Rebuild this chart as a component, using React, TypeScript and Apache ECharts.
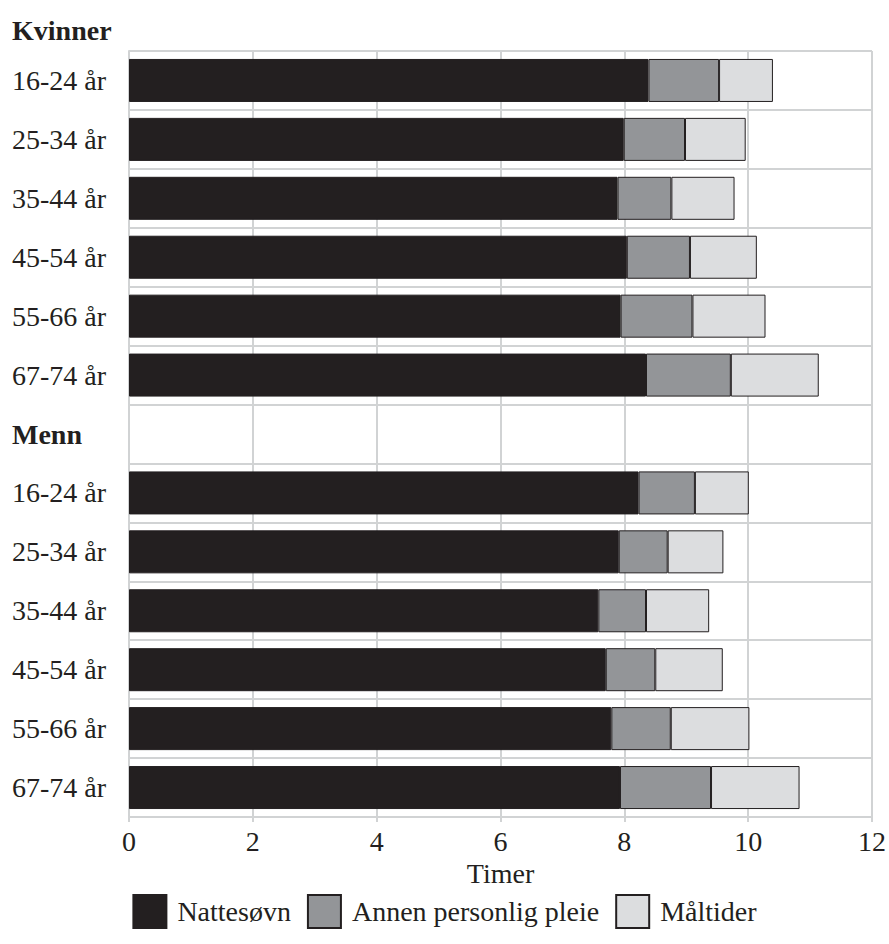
import React, { useEffect, useRef } from "react";
import * as echarts from "echarts";

const categories = [
  "16-24 år", "25-34 år", "35-44 år", "45-54 år", "55-66 år", "67-74 år",
  "Menn",
  "16-24 år ", "25-34 år ", "35-44 år ", "45-54 år ", "55-66 år ", "67-74 år ",
];
const seriesNames = ["Nattesøvn", "Annen personlig pleie", "Måltider"];
const nattesovn = [8.39, 7.99, 7.89, 8.04, 7.94, 8.35, null, 8.23, 7.91, 7.58, 7.70, 7.79, 7.93];
const annenPleie = [1.14, 0.99, 0.87, 1.02, 1.16, 1.37, null, 0.91, 0.79, 0.77, 0.80, 0.96, 1.47];
const maltider = [0.87, 0.98, 1.02, 1.08, 1.18, 1.42, null, 0.87, 0.90, 1.02, 1.09, 1.27, 1.43];
const colors = ["#231f20", "#939598", "#dcdddf"];
const xTicks = [0, 2, 4, 6, 8, 10, 12];

export default function App() {
  const ref = useRef<HTMLDivElement>(null);
  useEffect(() => {
    if (!ref.current) return;
    const chart = echarts.init(ref.current, null, { renderer: "svg" });
    const font = "'Liberation Serif', 'Times New Roman', serif";
    const gridColor = "#d1d3d4";
    const data = [nattesovn, annenPleie, maltider];
    chart.setOption({
      animation: false,
      textStyle: { fontFamily: font },
      graphic: [
        {
          type: "text",
          x: 12,
          y: 30,
          style: {
            text: "Kvinner",
            font: `bold 28px ${font}`,
            fill: "#231f20",
            textVerticalAlign: "middle",
          },
        },
      ],
      legend: {
        bottom: 10,
        left: "center",
        itemWidth: 33,
        itemHeight: 33,
        itemGap: 16,
        icon: "rect",
        textStyle: { fontSize: 28, color: "#231f20", fontFamily: font, padding: [0, 0, 0, 6] },
        data: seriesNames,
      },
      grid: { left: 129, right: 16, top: 51, bottom: 127 },
      xAxis: {
        type: "value",
        min: 0,
        max: 12,
        interval: 2,
        name: "Timer",
        nameLocation: "middle",
        nameGap: 42,
        nameTextStyle: { fontSize: 28, color: "#231f20", fontFamily: font },
        axisLine: { show: true, lineStyle: { color: gridColor, width: 2 } },
        axisTick: { show: true, length: 5, lineStyle: { color: gridColor, width: 2 } },
        axisLabel: {
          fontSize: 28,
          color: "#231f20",
          margin: 10,
          fontFamily: font,
          formatter: (v: number) => (xTicks.includes(v) ? String(v) : ""),
        },
        splitLine: { show: true, lineStyle: { color: gridColor, width: 2 } },
      },
      yAxis: {
        type: "category",
        data: categories,
        inverse: true,
        axisLine: { show: true, lineStyle: { color: gridColor, width: 2 } },
        axisTick: { show: false },
        splitLine: { show: true, interval: 0, lineStyle: { color: gridColor, width: 2 } },
        axisLabel: {
          align: "left",
          margin: 117,
          fontSize: 28,
          color: "#231f20",
          fontFamily: font,
          interval: 0,
          formatter: (v: string) => (v === "Menn" ? "{b|Menn}" : v.trim()),
          rich: {
            b: { fontWeight: "bold", fontSize: 28, color: "#231f20", fontFamily: font },
          },
        },
      },
      series: seriesNames.map((name, i) => ({
        name,
        type: "bar",
        stack: "total",
        barCategoryGap: "27%",
        data: data[i],
        itemStyle: { color: colors[i], borderColor: "#231f20", borderWidth: 1 },
      })),
    });
    return () => chart.dispose();
  }, []);
  return (
    <div
      ref={ref}
      style={{ position: "absolute", left: 0, top: 0, width: 889, height: 944 }}
    />
  );
}
